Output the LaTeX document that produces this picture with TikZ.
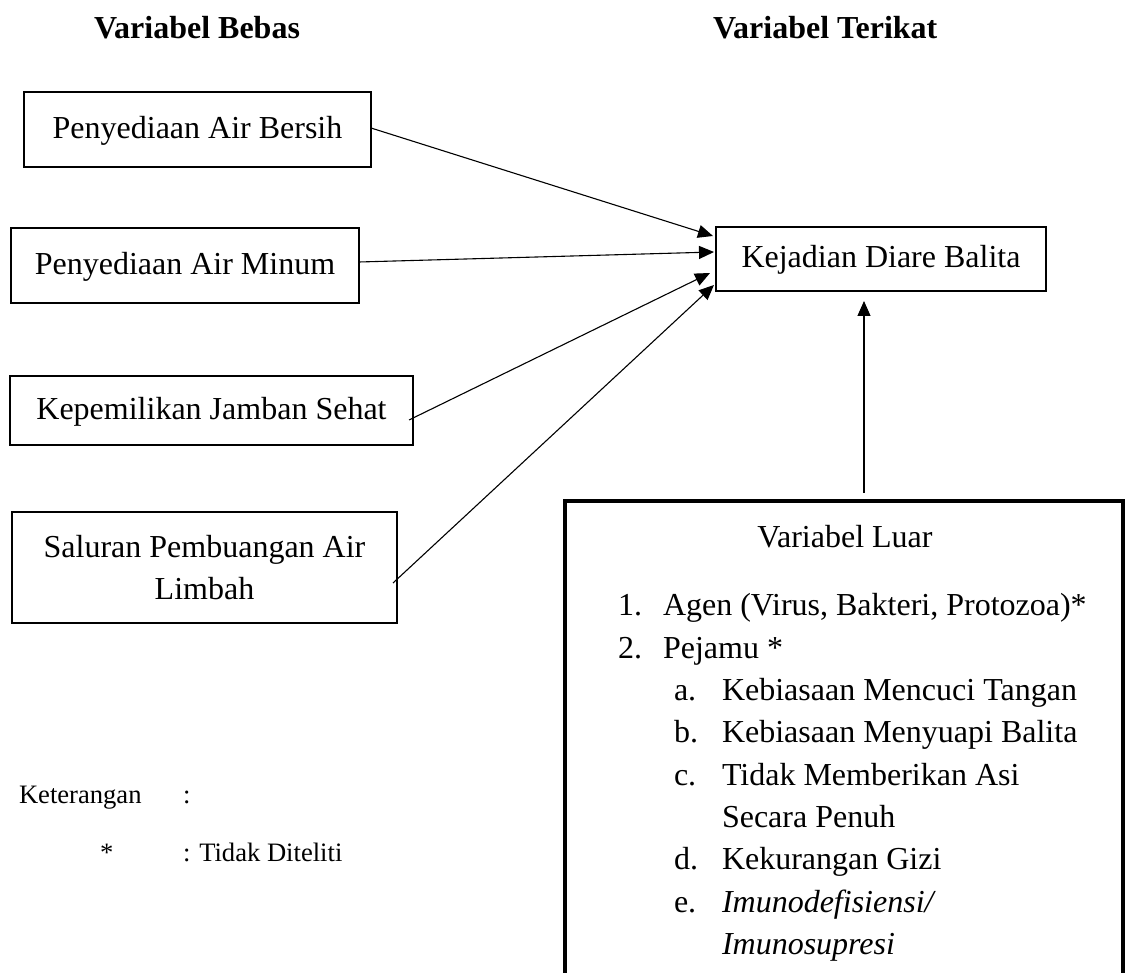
\documentclass[tikz,border=0pt]{standalone}
\usepackage{fontspec}
\setmainfont{Liberation Serif}
\usetikzlibrary{arrows.meta,calc}
\begin{document}
\begin{tikzpicture}[x=0.5pt,y=-0.5pt,
  every node/.style={inner sep=0pt,outer sep=0pt},
  txt/.style={font=\fontsize{16pt}{21.15pt}\selectfont},
  bold/.style={font=\fontsize{16pt}{21.15pt}\selectfont\bfseries},
  small/.style={font=\fontsize{13.3pt}{16pt}\selectfont},
  varbox/.style={draw,line width=1pt,txt,align=center},
  onebox/.style={varbox,text height=12pt,text depth=3pt},
  conn/.style={line width=0.55pt,-{Triangle[length=7.5pt,width=6.5pt]}}]
\useasboundingbox (0,0) rectangle (1131,973);
\clip (0,0) rectangle (1131,973);
% headings
\node[bold,anchor=base west] (hbebas) at (94,39) {Variabel Bebas};
\node[bold,anchor=base west] (hterikat) at (713,39) {Variabel Terikat};
% left boxes
\node[onebox,minimum width=173.5pt,minimum height=37.5pt] (b1) at (197.5,129.5) {Penyediaan Air Bersih};
\node[onebox,minimum width=174pt,minimum height=37.5pt] (b2) at (185,265.5) {Penyediaan Air Minum};
\node[onebox,minimum width=201.5pt,minimum height=34.5pt] (b3) at (211.5,410.5) {Kepemilikan Jamban Sehat};
\node[varbox,minimum width=192.5pt,minimum height=55.5pt] (b4) at (204.5,567.5) {Saluran Pembuangan Air\\Limbah};
% target
\node[onebox,minimum width=165pt,minimum height=32pt] (kej) at (881,259) {Kejadian Diare Balita};
% outer box
\node[draw,line width=2pt,minimum width=279pt,minimum height=250pt] (luar) at (844,751) {};
% connectors
\draw[conn] ($(b1.east)+(0,-1.5)$) -- ($(kej.west)+(-3,-23)$);
\draw[conn] ($(b2.east)+(0,-3.5)$) -- ($(kej.west)+(-2,-7)$);
\draw[conn] ($(b3.east)+(-4,9.5)$) -- ($(kej.west)+(-6,14)$);
\draw[conn] ($(b4.east)+(-4,15.5)$) -- ($(kej.west)+(-2,26)$);
\draw[conn] ($(luar.north)+(20,-8)$) -- ($(kej.south)+(-17,10)$);
% outer box text
\node[txt,anchor=base] (tluar) at (845,547) {Variabel Luar};
\node[txt,anchor=base west] (n1) at (618,615.5) {1.};
\node[txt,anchor=base west] (t1) at (663,615.5) {Agen (Virus, Bakteri, Protozoa)*};
\node[txt,anchor=base west] (n2) at (618,658) {2.};
\node[txt,anchor=base west] (t2) at (663,658) {Pejamu *};
\node[txt,anchor=base west] (na) at (674,700) {a.};
\node[txt,anchor=base west] (ta) at (722,700) {Kebiasaan Mencuci Tangan};
\node[txt,anchor=base west] (nb) at (674,742.5) {b.};
\node[txt,anchor=base west] (tb) at (722,742.5) {Kebiasaan Menyuapi Balita};
\node[txt,anchor=base west] (nc) at (674,785) {c.};
\node[txt,anchor=base west] (tc) at (722,785) {Tidak Memberikan Asi};
\node[txt,anchor=base west] (tc2) at (722,827) {Secara Penuh};
\node[txt,anchor=base west] (nd) at (674,869) {d.};
\node[txt,anchor=base west] (td) at (722,869) {Kekurangan Gizi};
\node[txt,anchor=base west] (ne) at (674,912) {e.};
\node[txt,anchor=base west] (te) at (722,912) {\textit{Imunodefisiensi/}};
\node[txt,anchor=base west] (te2) at (722,954) {\textit{Imunosupresi}};
% legend
\node[small,anchor=base west] (ket) at (19,803) {Keterangan};
\node[small,anchor=base west] (ketc) at (183,803) {:};
\node[small,anchor=base west] (star) at (100,861) {*};
\node[small,anchor=base west] (tdk) at (183,861) {: Tidak Diteliti};
\end{tikzpicture}
\end{document}
